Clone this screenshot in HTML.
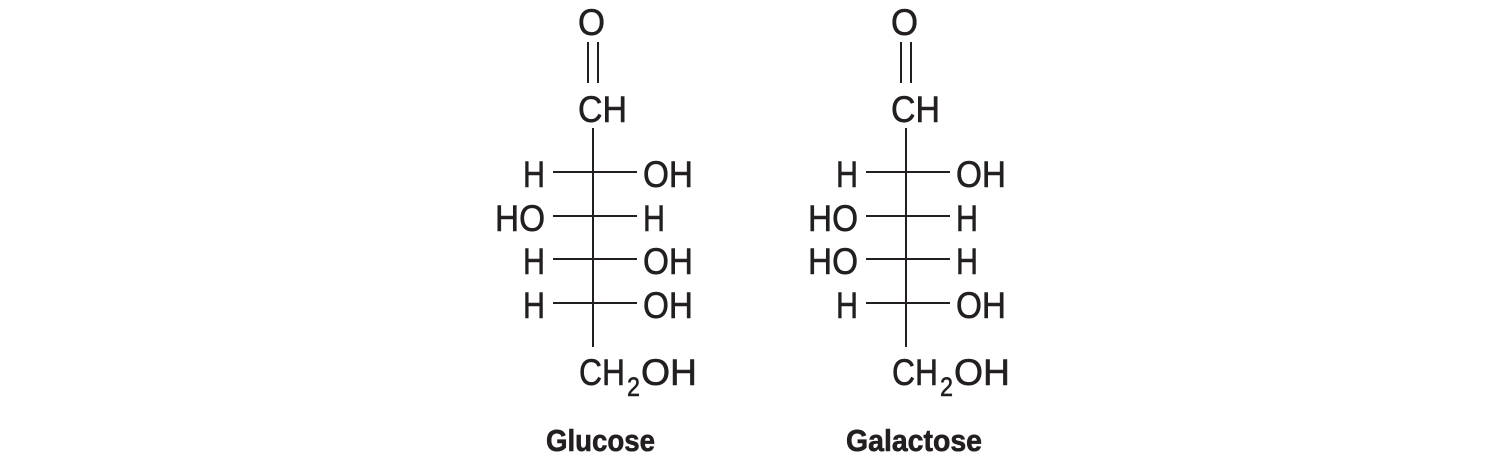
<!DOCTYPE html>
<html><head><meta charset="utf-8"><style>
html,body{margin:0;padding:0;background:#fff;}
svg{display:block;}
text{font-family:"Liberation Sans",sans-serif;fill:#231f20;stroke:#231f20;stroke-width:0.6;}
</style></head><body>
<svg width="1500" height="466" viewBox="0 0 1500 466" xmlns="http://www.w3.org/2000/svg">
<defs>
<g id="frame" stroke="#231f20" stroke-width="2" fill="none">
  <line x1="588" y1="42" x2="588" y2="83"/>
  <line x1="598" y1="42" x2="598" y2="83"/>
  <line x1="593" y1="128" x2="593" y2="347"/>
  <line x1="553" y1="172" x2="637" y2="172"/>
  <line x1="553" y1="216" x2="637" y2="216"/>
  <line x1="553" y1="259" x2="637" y2="259"/>
  <line x1="553" y1="303" x2="637" y2="303"/>
</g>
</defs>
<g font-size="37">
  <use href="#frame"/>
  <text x="578" y="35" textLength="27" lengthAdjust="spacingAndGlyphs">O</text>
  <text x="578" y="122" textLength="49" lengthAdjust="spacingAndGlyphs">CH</text>
  <text x="523" y="187" textLength="22" lengthAdjust="spacingAndGlyphs">H</text>
  <text x="643" y="187" textLength="50" lengthAdjust="spacingAndGlyphs">OH</text>
  <text x="495" y="231" textLength="50" lengthAdjust="spacingAndGlyphs">HO</text>
  <text x="643" y="231" textLength="22" lengthAdjust="spacingAndGlyphs">H</text>
  <text x="523" y="274" textLength="22" lengthAdjust="spacingAndGlyphs">H</text>
  <text x="643" y="274" textLength="50" lengthAdjust="spacingAndGlyphs">OH</text>
  <text x="523" y="318" textLength="22" lengthAdjust="spacingAndGlyphs">H</text>
  <text x="643" y="318" textLength="50" lengthAdjust="spacingAndGlyphs">OH</text>
  <text x="579" y="385" textLength="46" lengthAdjust="spacingAndGlyphs">CH</text>
  <text x="627" y="396" font-size="27" textLength="13" lengthAdjust="spacingAndGlyphs">2</text>
  <text x="641" y="385" textLength="56" lengthAdjust="spacingAndGlyphs">OH</text>
  <text x="546" y="451" font-size="31" font-weight="bold" textLength="109" lengthAdjust="spacingAndGlyphs">Glucose</text>

  <g transform="translate(313,0)">
    <use href="#frame"/>
    <text x="578" y="35" textLength="27" lengthAdjust="spacingAndGlyphs">O</text>
    <text x="578" y="122" textLength="49" lengthAdjust="spacingAndGlyphs">CH</text>
    <text x="523" y="187" textLength="22" lengthAdjust="spacingAndGlyphs">H</text>
    <text x="643" y="187" textLength="50" lengthAdjust="spacingAndGlyphs">OH</text>
    <text x="495" y="231" textLength="50" lengthAdjust="spacingAndGlyphs">HO</text>
    <text x="643" y="231" textLength="22" lengthAdjust="spacingAndGlyphs">H</text>
    <text x="495" y="274" textLength="50" lengthAdjust="spacingAndGlyphs">HO</text>
    <text x="643" y="274" textLength="22" lengthAdjust="spacingAndGlyphs">H</text>
    <text x="523" y="318" textLength="22" lengthAdjust="spacingAndGlyphs">H</text>
    <text x="643" y="318" textLength="50" lengthAdjust="spacingAndGlyphs">OH</text>
    <text x="579" y="385" textLength="46" lengthAdjust="spacingAndGlyphs">CH</text>
    <text x="627" y="396" font-size="27" textLength="13" lengthAdjust="spacingAndGlyphs">2</text>
    <text x="641" y="385" textLength="56" lengthAdjust="spacingAndGlyphs">OH</text>
  </g>
  <text x="846" y="451" font-size="31" font-weight="bold" textLength="136" lengthAdjust="spacingAndGlyphs">Galactose</text>
</g>
</svg>
</body></html>
